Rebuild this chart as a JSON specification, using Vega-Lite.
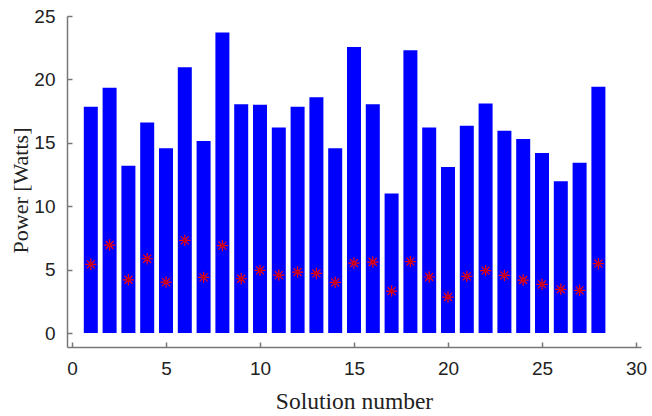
{
  "$schema": "https://vega.github.io/schema/vega-lite/v6.json",
  "width": 574,
  "height": 331,
  "autosize": {"type": "none"},
  "padding": {"left": 67, "top": 16, "right": 11, "bottom": 69},
  "background": "white",
  "config": {"view": {"stroke": null}},
  "data": {"values": [
    {"n": 1, "power": 17.85, "star": 5.42},
    {"n": 2, "power": 19.35, "star": 6.94},
    {"n": 3, "power": 13.2, "star": 4.2},
    {"n": 4, "power": 16.6, "star": 5.86},
    {"n": 5, "power": 14.57, "star": 4.02},
    {"n": 6, "power": 20.95, "star": 7.31},
    {"n": 7, "power": 15.14, "star": 4.39},
    {"n": 8, "power": 23.7, "star": 6.89},
    {"n": 9, "power": 18.04, "star": 4.28},
    {"n": 10, "power": 18.0, "star": 4.94},
    {"n": 11, "power": 16.2, "star": 4.57},
    {"n": 12, "power": 17.85, "star": 4.81},
    {"n": 13, "power": 18.6, "star": 4.7},
    {"n": 14, "power": 14.57, "star": 4.0},
    {"n": 15, "power": 22.55, "star": 5.52},
    {"n": 16, "power": 18.04, "star": 5.6},
    {"n": 17, "power": 11.0, "star": 3.31},
    {"n": 18, "power": 22.3, "star": 5.63},
    {"n": 19, "power": 16.2, "star": 4.42},
    {"n": 20, "power": 13.1, "star": 2.84},
    {"n": 21, "power": 16.35, "star": 4.47},
    {"n": 22, "power": 18.1, "star": 4.92},
    {"n": 23, "power": 15.95, "star": 4.55},
    {"n": 24, "power": 15.3, "star": 4.18},
    {"n": 25, "power": 14.2, "star": 3.84},
    {"n": 26, "power": 11.96, "star": 3.45},
    {"n": 27, "power": 13.43, "star": 3.37},
    {"n": 28, "power": 19.42, "star": 5.47}
  ]},
  "encoding": {
    "x": {
      "field": "n", "type": "quantitative",
      "scale": {"domain": [0, 30], "nice": false},
      "axis": {
        "title": "Solution number",
        "titleFont": "Liberation Serif", "titleFontSize": 23.5, "titleFontWeight": "normal", "titleColor": "#222",
        "titlePadding": 11,
        "values": [0, 5, 10, 15, 20, 25, 30],
        "labelFont": "Liberation Sans", "labelFontSize": 19, "labelColor": "#222",
        "labelPadding": 17,
        "grid": false,
        "domainColor": "#777", "domainWidth": 1.5,
        "tickColor": "#777", "tickSize": -5, "tickWidth": 1.5
      }
    }
  },
  "layer": [
    {
      "mark": {"type": "bar", "color": "#0000ff", "size": 14},
      "encoding": {
        "y": {
          "field": "power", "type": "quantitative",
          "scale": {"domain": [-1.1, 25], "nice": false, "zero": false},
          "axis": {
            "title": "Power [Watts]",
            "titleFont": "Liberation Serif", "titleFontSize": 22, "titleFontWeight": "normal", "titleColor": "#222",
            "titlePadding": 1,
            "titleY": 174,
            "values": [0, 5, 10, 15, 20, 25],
            "labelFont": "Liberation Sans", "labelFontSize": 19, "labelColor": "#222",
            "labelPadding": 17,
            "grid": false,
            "domainColor": "#777", "domainWidth": 1.5,
            "tickColor": "#777", "tickSize": -5, "tickWidth": 1.5
          }
        },
        "y2": {"datum": 0}
      }
    },
    {
      "mark": {
        "type": "point",
        "shape": "M-1,0L1,0M0,-1L0,1M-0.7,-0.7L0.7,0.7M-0.7,0.7L0.7,-0.7",
        "filled": false, "stroke": "#ff0000", "strokeWidth": 1.2, "size": 130, "opacity": 1
      },
      "encoding": {"y": {"field": "star", "type": "quantitative"}}
    },
    {
      "mark": {"type": "point", "shape": "circle", "filled": true, "color": "#b00020", "size": 8, "opacity": 1},
      "encoding": {"y": {"field": "star", "type": "quantitative"}}
    }
  ]
}
